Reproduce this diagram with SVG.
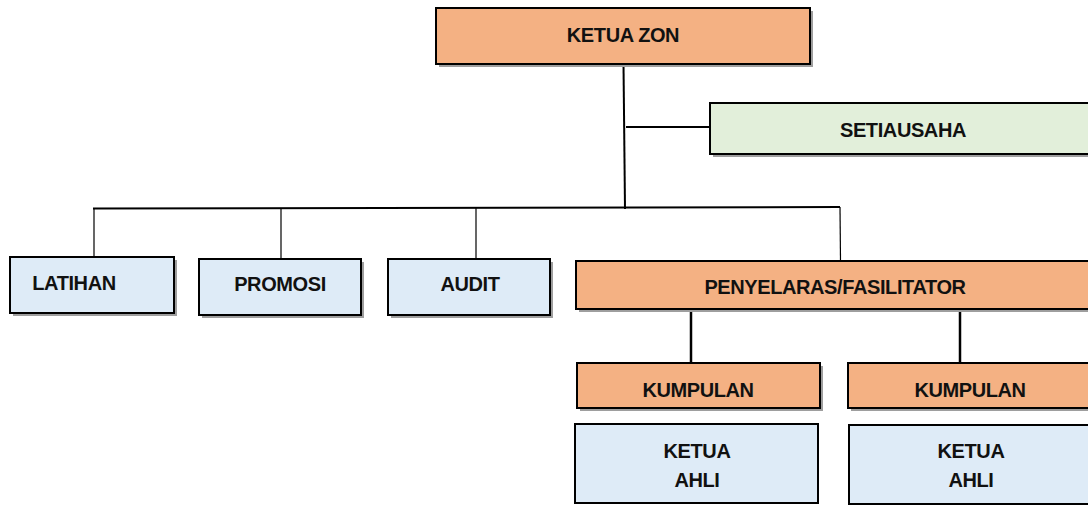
<svg xmlns="http://www.w3.org/2000/svg" width="1088" height="505" viewBox="0 0 1088 505">
<style>
.box{stroke:#000;stroke-width:2}
.or{fill:#F4B183}
.gr{fill:#E2EFDA}
.bl{fill:#DEEBF7}
.sh{fill:#9E9E9E}
.t{font-family:"Liberation Sans",Arial,sans-serif;font-weight:bold;font-size:20px;letter-spacing:-0.4px;fill:#111;text-anchor:middle}
.c{stroke:#000;fill:none}
</style>
<rect width="1088" height="505" fill="#fff"/>
<g id="connectors">
<line class="c" x1="623.5" y1="64" x2="625" y2="209" stroke-width="2"/>
<line class="c" x1="626" y1="127" x2="711" y2="127" stroke-width="2"/>
<line class="c" x1="93" y1="208.5" x2="840" y2="207" stroke-width="2"/>
<line class="c" x1="94" y1="208" x2="94" y2="257" stroke-width="1.2"/>
<line class="c" x1="281" y1="208" x2="281" y2="259" stroke-width="1.2"/>
<line class="c" x1="476" y1="208" x2="476" y2="259" stroke-width="1.2"/>
<line class="c" x1="840" y1="207" x2="840.5" y2="261" stroke-width="1.2"/>
<line class="c" x1="691" y1="309" x2="691" y2="363" stroke-width="2.5"/>
<line class="c" x1="960" y1="309" x2="960" y2="363" stroke-width="2.5"/>
</g>
<g id="ketua-zon">
<rect class="sh" x="439" y="11" width="374" height="56"/>
<rect class="box or" x="436" y="8" width="374" height="56"/>
<text class="t" x="623" y="42">KETUA ZON</text>
</g>
<g id="setiausaha">
<rect class="sh" x="713" y="106" width="380" height="51"/>
<rect class="box gr" x="710" y="103" width="382" height="51"/>
<text class="t" x="903" y="137">SETIAUSAHA</text>
</g>
<g id="latihan">
<rect class="sh" x="13" y="260" width="164" height="56"/>
<rect class="box bl" x="10" y="257" width="164" height="56"/>
<text class="t" x="74" y="290">LATIHAN</text>
</g>
<g id="promosi">
<rect class="sh" x="202" y="262" width="162" height="56"/>
<rect class="box bl" x="199" y="259" width="162" height="56"/>
<text class="t" x="280" y="291">PROMOSI</text>
</g>
<g id="audit">
<rect class="sh" x="391" y="262" width="162" height="56"/>
<rect class="box bl" x="388" y="259" width="162" height="56"/>
<text class="t" x="470" y="291">AUDIT</text>
</g>
<g id="penyelaras">
<rect class="sh" x="579" y="264" width="520" height="48"/>
<rect class="box or" x="576" y="261" width="520" height="48"/>
<text class="t" x="835" y="294">PENYELARAS/FASILITATOR</text>
</g>
<g id="kumpulan-1">
<rect class="sh" x="580" y="366" width="243" height="45"/>
<rect class="box or" x="577" y="363" width="243" height="45"/>
<text class="t" x="698" y="397">KUMPULAN</text>
</g>
<g id="kumpulan-2">
<rect class="sh" x="851" y="366" width="250" height="45"/>
<rect class="box or" x="848" y="363" width="250" height="45"/>
<text class="t" x="970" y="397">KUMPULAN</text>
</g>
<g id="ketua-ahli-1">
<rect class="box bl" x="575" y="424" width="243" height="79"/>
<text class="t" x="697" y="458">KETUA</text>
<text class="t" x="697" y="487">AHLI</text>
</g>
<g id="ketua-ahli-2">
<rect class="box bl" x="849" y="425" width="250" height="79"/>
<text class="t" x="971" y="458">KETUA</text>
<text class="t" x="971" y="487">AHLI</text>
</g>
</svg>
